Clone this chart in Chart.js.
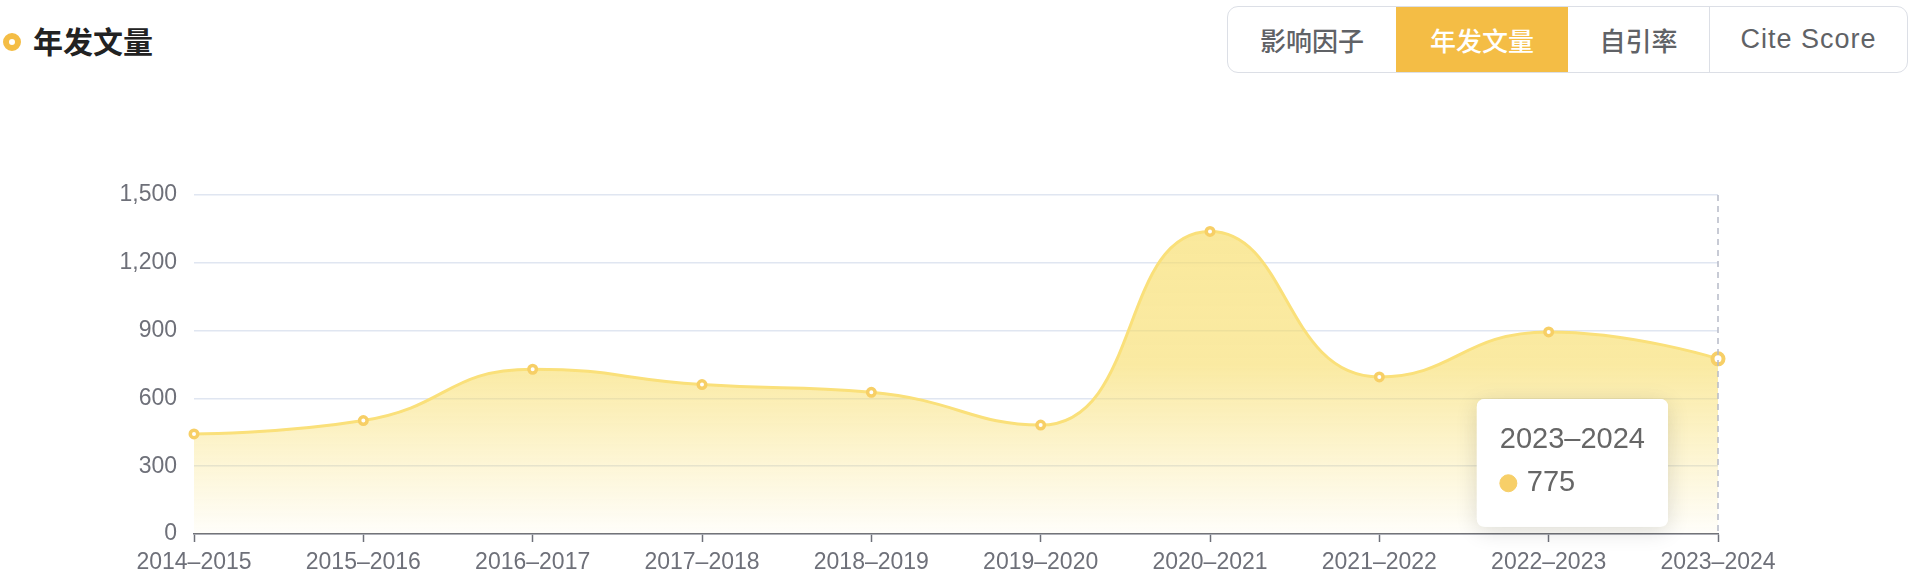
<!DOCTYPE html>
<html>
<head>
<meta charset="utf-8">
<script src="https://cdn.jsdelivr.net/npm/chart.js@4"></script>
<style>
  html, body { margin: 0; padding: 0; background: #fff; }
  body { width: 1916px; height: 578px; position: relative; overflow: hidden;
         font-family: "Liberation Sans", "Noto Sans CJK SC", sans-serif; }
  #chart { position: absolute; left: 0; top: 0; }
  .dot { position: absolute; left: 3px; top: 33px; width: 6px; height: 6px;
         border: 6px solid #f4bd45; border-radius: 50%; }
  .title { position: absolute; left: 33px; top: 19px; font-size: 30px; font-weight: 700;
           color: #222; line-height: 42px; font-family: "Noto Sans CJK SC", sans-serif; }
  .tabs { position: absolute; left: 1227px; top: 6px; width: 681px; height: 67px; display: flex;
          border: 1.5px solid #dcdfe6; border-radius: 11px; overflow: hidden; box-sizing: border-box; }
  .tabs div { height: 100%; display: flex; align-items: center; justify-content: center;
              font-size: 26px; font-weight: 500; color: #606266; box-sizing: border-box;
              font-family: "Liberation Sans", "Noto Sans CJK SC", sans-serif; }
  .tabs .on { background: #f4bd45; color: #fff; }
  .tabs .sep { border-left: 1.5px solid #dcdfe6; }
  .tabs .latin { font-size: 27px; letter-spacing: 1px; }
</style>
</head>
<body>
<div class="dot"></div>
<div class="title">年发文量</div>
<div class="tabs">
  <div style="width:168px">影响因子</div>
  <div class="on" style="width:172px">年发文量</div>
  <div style="width:141px">自引率</div>
  <div class="sep latin" style="flex:1">Cite Score</div>
</div>
<canvas id="chart" width="1916" height="578"></canvas>
<script>
const years = ["2014–2015", "2015–2016", "2016–2017", "2017–2018", "2018–2019",
               "2019–2020", "2020–2021", "2021–2022", "2022–2023", "2023–2024"]
const articles = [443, 502, 729, 661, 627, 482, 1339, 695, 894, 775]
const yTicks = [0, 300, 600, 900, 1200, 1500]
const activeIndex = 9

Chart.defaults.font.family = '"Liberation Sans", "Noto Sans CJK SC", sans-serif'

const clamp = (v, a, b) => Math.min(Math.max(v, Math.min(a, b)), Math.max(a, b))

// smoothing with control points kept between neighbours (no overshoot)
function smoothPoints(pts, smooth) {
  const n = pts.length
  if (n < 2) return
  pts[0].cp1x = pts[0].x; pts[0].cp1y = pts[0].y
  pts[0].cp2x = pts[0].x; pts[0].cp2y = pts[0].y
  pts[n - 1].cp1x = pts[n - 1].x; pts[n - 1].cp1y = pts[n - 1].y
  pts[n - 1].cp2x = pts[n - 1].x; pts[n - 1].cp2y = pts[n - 1].y
  for (let i = 1; i < n - 1; i++) {
    const p = pts[i], a = pts[i - 1], b = pts[i + 1]
    const lp = Math.hypot(p.x - a.x, p.y - a.y)
    const ln = Math.hypot(b.x - p.x, b.y - p.y)
    const r = ln / (ln + lp)
    let vx = b.x - a.x, vy = b.y - a.y
    let nx = clamp(p.x + vx * smooth * r, b.x, p.x)
    let ny = clamp(p.y + vy * smooth * r, b.y, p.y)
    vx = nx - p.x; vy = ny - p.y
    const cx = clamp(p.x - vx * lp / ln, a.x, p.x)
    const cy = clamp(p.y - vy * lp / ln, a.y, p.y)
    vx = p.x - cx; vy = p.y - cy
    nx = p.x + vx * ln / lp
    ny = p.y + vy * ln / lp
    p.cp1x = cx; p.cp1y = cy
    p.cp2x = nx; p.cp2y = ny
  }
}

Chart.Tooltip.positioners.leftOfPoint = function (items) {
  if (!items.length) return false
  const el = items[0].element
  return { x: el.x - 50, y: el.y + 104, xAlign: "right", yAlign: "center" }
}

const extras = {
  id: "extras",
  afterDatasetsUpdate(chart) {
    chart.getSortedVisibleDatasetMetas().forEach(meta => {
      meta.dataset.updateControlPoints(chart.chartArea, "x")
      smoothPoints(meta.data, 0.5)
    })
  },
  afterDatasetsDraw(chart) {
    const active = chart.getActiveElements()
    if (!active.length) return
    const { ctx, chartArea } = chart
    const x = active[0].element.x
    ctx.save()
    ctx.strokeStyle = "#b6bac8"
    ctx.lineWidth = 1.5
    ctx.setLineDash([6, 5])
    ctx.beginPath()
    ctx.moveTo(x, chartArea.top)
    ctx.lineTo(x, chartArea.bottom)
    ctx.stroke()
    ctx.restore()
  },
  beforeTooltipDraw(chart, args) {
    const tt = args.tooltip
    if (!tt.opacity) return
    const { ctx } = chart
    ctx.save()
    ctx.shadowColor = "rgba(0,0,0,0.14)"
    ctx.shadowBlur = 22
    ctx.shadowOffsetY = 4
    ctx.fillStyle = "#fff"
    ctx.beginPath()
    ctx.roundRect(tt.x, tt.y, tt.width, tt.height, 8)
    ctx.fill()
    ctx.restore()
  }
}

const chart = new Chart(document.getElementById("chart"), {
  type: "line",
  data: {
    labels: years,
    datasets: [{
      label: "年发文量",
      data: articles,
      borderColor: "#fae07a",
      borderWidth: 3,
      tension: 0.5,
      fill: "origin",
      backgroundColor(ctx) {
        const area = ctx.chart.chartArea
        if (!area) return "rgba(248,222,110,0.5)"
        const g = ctx.chart.ctx.createLinearGradient(0, area.top, 0, area.bottom)
        g.addColorStop(0, "rgba(247,220,100,0.65)")
        g.addColorStop(0.5, "rgba(247,220,100,0.6)")
        g.addColorStop(1, "rgba(247,220,100,0.03)")
        return g
      },
      pointRadius: 3.75,
      pointBorderWidth: 3.5,
      pointBorderColor: "#f7cf66",
      pointBackgroundColor: "#fff",
      pointHoverRadius: 5.5,
      pointHoverBorderWidth: 4,
      pointHoverBorderColor: "#f7cf66",
      pointHoverBackgroundColor: "#fff"
    }]
  },
  options: {
    responsive: false,
    animation: false,
    events: [],
    devicePixelRatio: 1,
    layout: { padding: { top: 195, right: 198, left: 0, bottom: 0 } },
    plugins: {
      legend: { display: false },
      tooltip: {
        enabled: true,
        position: "leftOfPoint",
        backgroundColor: "#fff",
        titleColor: "#666",
        bodyColor: "#666",
        titleFont: { size: 29, weight: "normal" },
        bodyFont: { size: 29 },
        titleMarginBottom: 8,
        padding: { top: 24, bottom: 26, left: 23, right: 23 },
        cornerRadius: 8,
        caretSize: 0,
        caretPadding: 0,
        displayColors: true,
        usePointStyle: true,
        boxWidth: 17,
        boxHeight: 17,
        boxPadding: 8,
        callbacks: {
          label: (ctx) => String(ctx.parsed.y),
          labelColor: () => ({ borderColor: "#f7cf68", backgroundColor: "#f7cf68" }),
          labelPointStyle: () => ({ pointStyle: "circle", rotation: 0 })
        }
      }
    },
    scales: {
      x: {
        offset: false,
        afterFit(scale) { scale.height = 44 },
        grid: { drawOnChartArea: false, drawTicks: true, tickLength: 8, tickColor: "#6e7079", tickWidth: 1.5 },
        border: { display: true, color: "#6e7079", width: 1.5 },
        ticks: { color: "#6e7079", font: { size: 23 }, padding: 7, maxRotation: 0, autoSkip: false }
      },
      y: {
        min: 0,
        max: 1500,
        afterFit(scale) { scale.width = 194 },
        afterBuildTicks(scale) { scale.ticks = yTicks.map(v => ({ value: v })) },
        grid: { color: "#e0e6f1", lineWidth: 1.5, drawTicks: false },
        border: { display: false },
        ticks: { color: "#6e7079", font: { size: 23 }, padding: 17 }
      }
    }
  },
  plugins: [extras]
})

const act = [{ datasetIndex: 0, index: activeIndex }]
chart.setActiveElements(act)
chart.tooltip.setActiveElements(act, { x: 0, y: 0 })
chart.update()
</script>
</body>
</html>
